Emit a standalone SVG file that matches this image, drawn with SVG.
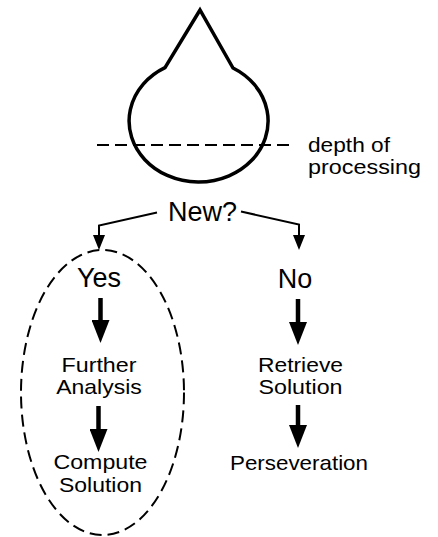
<svg xmlns="http://www.w3.org/2000/svg" width="438" height="537" viewBox="0 0 438 537">
  <style>
    text { font-family: "Liberation Sans", Arial, Helvetica, sans-serif; fill: #000; }
    .big { font-size: 27px; text-anchor: middle; }
    .lbl { font-size: 21px; text-anchor: middle; }
    .note { font-size: 21px; }
    .thin { fill: none; stroke: #000; stroke-width: 2; stroke-linejoin: miter; }
    .thick { fill: none; stroke: #000; stroke-width: 4.5; }
    .dash { fill: none; stroke: #000; stroke-width: 2; stroke-dasharray: 12 6; }
  </style>
  <defs>
    <marker id="headThin" markerUnits="userSpaceOnUse" viewBox="0 -6 15 12" markerWidth="15" markerHeight="12" refX="0" refY="0" orient="auto">
      <path d="M0,-6 L15,0 L0,6 Z" fill="#000"/>
    </marker>
    <marker id="headThick" markerUnits="userSpaceOnUse" viewBox="0 -9 23 18" markerWidth="23" markerHeight="18" refX="0" refY="0" orient="auto">
      <path d="M0,-9 L23,0 L0,9 Z" fill="#000"/>
    </marker>
  </defs>

  <!-- drop-shaped processing figure -->
  <g id="drop">
    <path d="M200,10 L165,67.6 A69.5,61 0 1 0 233,68 Z" fill="none" stroke="#000" stroke-width="3.5" stroke-linejoin="miter"/>
  </g>

  <!-- depth-of-processing marker -->
  <g id="depth">
    <line class="dash" x1="97" y1="145" x2="293" y2="145"/>
    <text class="note" x="308" y="151.5" textLength="82" lengthAdjust="spacingAndGlyphs">depth of</text>
    <text class="note" x="308" y="173.5" textLength="113" lengthAdjust="spacingAndGlyphs">processing</text>
  </g>

  <g id="new">
    <text class="big" x="202.5" y="220.5">New?</text>
  </g>

  <!-- dashed grouping around the "Yes" branch -->
  <g id="yesGroup">
    <ellipse class="dash" cx="102.5" cy="392.5" rx="81.5" ry="142.5"/>
  </g>

  <g id="yes">
    <text class="big" x="99" y="286.5">Yes</text>
  </g>
  <g id="no">
    <text class="big" x="295" y="288">No</text>
  </g>

  <g id="further">
    <text class="lbl" x="99" y="371.5" textLength="75" lengthAdjust="spacingAndGlyphs">Further</text>
    <text class="lbl" x="99" y="393.5" textLength="85.5" lengthAdjust="spacingAndGlyphs">Analysis</text>
  </g>
  <g id="compute">
    <text class="lbl" x="100.5" y="468.5" textLength="94" lengthAdjust="spacingAndGlyphs">Compute</text>
    <text class="lbl" x="100.5" y="491.5" textLength="83" lengthAdjust="spacingAndGlyphs">Solution</text>
  </g>
  <g id="retrieve">
    <text class="lbl" x="300.5" y="371.5" textLength="85" lengthAdjust="spacingAndGlyphs">Retrieve</text>
    <text class="lbl" x="300.5" y="394" textLength="84" lengthAdjust="spacingAndGlyphs">Solution</text>
  </g>
  <g id="perseveration">
    <text class="lbl" x="299" y="470" textLength="138" lengthAdjust="spacingAndGlyphs">Perseveration</text>
  </g>

  <g id="connectors">
    <polyline class="thin" points="157,212.5 99,225.5 99,235" marker-end="url(#headThin)"/>
    <polyline class="thin" points="241,211.5 299,224.5 299,235" marker-end="url(#headThin)"/>
    <line class="thick" x1="100.5" y1="298" x2="100.5" y2="320" marker-end="url(#headThick)"/>
    <line class="thick" x1="98.5" y1="406" x2="98.5" y2="429" marker-end="url(#headThick)"/>
    <line class="thick" x1="298" y1="299" x2="298" y2="322" marker-end="url(#headThick)"/>
    <line class="thick" x1="298" y1="405" x2="298" y2="425" marker-end="url(#headThick)"/>
  </g>
</svg>
